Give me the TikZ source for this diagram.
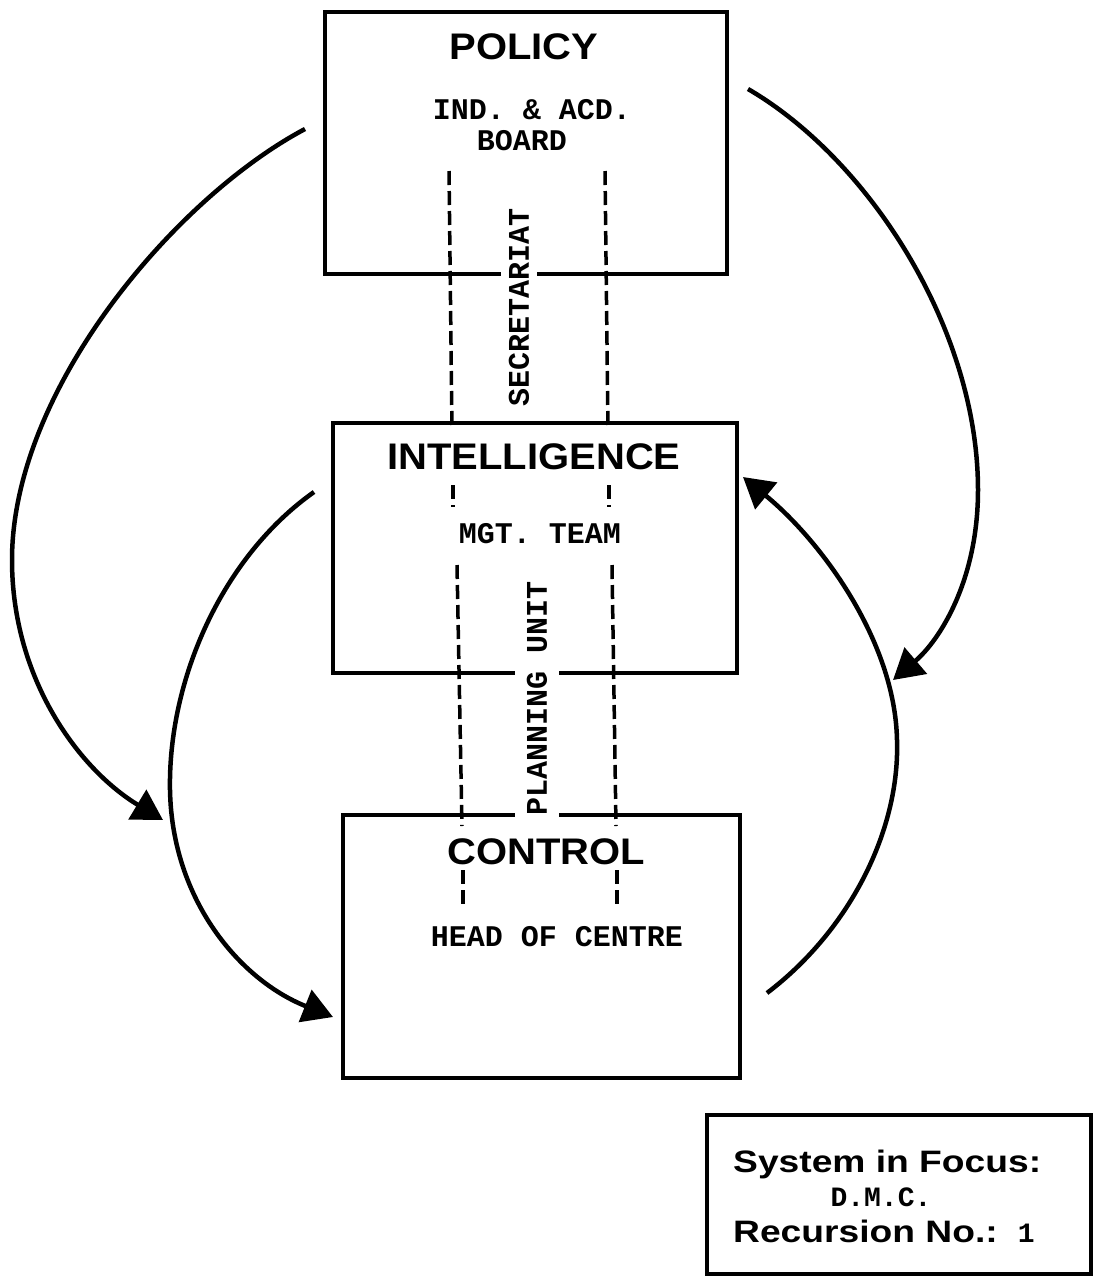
\documentclass[tikz,border=0pt]{standalone}
\usepackage{fontspec}
\usetikzlibrary{arrows.meta}
\newfontfamily\titlefont[FakeStretch=1.08]{Liberation Sans}
\newfontfamily\focusfont[FakeStretch=1.2]{Liberation Sans}
\newfontfamily\typefont{Liberation Mono}
\begin{document}
\begin{tikzpicture}[x=1pt,y=-1pt,
  panel/.style={draw, line width=4.5pt, inner sep=0pt},
  title/.style={font=\titlefont\bfseries\fontsize{37}{40}\selectfont, inner sep=0pt},
  tag/.style={font=\typefont\bfseries\fontsize{30}{30}\selectfont, inner sep=0pt},
  vlabel/.style={tag, rotate=90, fill=white, inner xsep=3pt},
  channel/.style={line width=3.5pt, dash pattern=on 14pt off 6pt},
  flow/.style={line width=4.5pt, -{Triangle[length=30pt,width=34pt]}},
  focus/.style={font=\focusfont\bfseries\fontsize{31}{33}\selectfont, inner sep=0pt, anchor=base west}]

\useasboundingbox[fill=white] (0,0) rectangle (1094,1278);

% the three management boxes
\node[panel, minimum width=402pt, minimum height=262pt] (policy) at (526,143) {};
\node[panel, minimum width=404pt, minimum height=250pt] (intel) at (535,548) {};
\node[panel, minimum width=397pt, minimum height=263pt] (control) at (541.5,946.5) {};

% box titles
\node[title] (policyT) at (524,47) {POLICY};
\node[title] (intelT) at (534,457) {INTELLIGENCE};
\node[title] (controlT) at (546,852) {CONTROL};

% bodies inside the boxes
\node[tag] (ind) at (532,110) {IND. \& ACD.};
\node[tag] (board) at (522,141) {BOARD};
\node[tag] (mgt) at (540,534) {MGT. TEAM};
\node[tag] (head) at (557,937) {HEAD OF CENTRE};

% vertical channels between the boxes
\coordinate (s1a) at (449,171); \coordinate (s1b) at (452,430);
\coordinate (s2a) at (605,171); \coordinate (s2b) at (608,430);
\coordinate (s3a) at (453,485); \coordinate (s3b) at (453,507);
\coordinate (s4a) at (609,485); \coordinate (s4b) at (609,507);
\coordinate (p1a) at (457,565); \coordinate (p1b) at (462,826);
\coordinate (p2a) at (612,565); \coordinate (p2b) at (616,826);
\coordinate (p3a) at (463,870); \coordinate (p3b) at (463,907);
\coordinate (p4a) at (617,870); \coordinate (p4b) at (617,907);
\draw[channel] (s1a) -- (s1b);
\draw[channel] (s2a) -- (s2b);
\draw[channel] (s3a) -- (s3b);
\draw[channel] (s4a) -- (s4b);
\draw[channel] (p1a) -- (p1b);
\draw[channel] (p2a) -- (p2b);
\draw[channel] (p3a) -- (p3b);
\draw[channel] (p4a) -- (p4b);

% channel labels, breaking the box borders they cross
\node[vlabel, inner ysep=8pt] (secr) at (519,307) {SECRETARIAT};
\node[vlabel, inner ysep=12pt, inner xsep=5pt] (plan) at (537,698) {PLANNING UNIT};

% curved flows around the boxes
\coordinate (l1s) at (305,129); \coordinate (l1m) at (12,560); \coordinate (l1e) at (163,820);
\draw[flow] (l1s) .. controls (175,198) and (12,390) .. (l1m)
                  .. controls (12,680) and (80,770) .. (l1e);

\coordinate (l2s) at (314,492); \coordinate (l2m) at (170,790); \coordinate (l2e) at (333,1017);
\draw[flow] (l2s) .. controls (222,557) and (168,680) .. (l2m)
                  .. controls (172,900) and (240,980) .. (l2e);

\coordinate (r1s) at (748,89); \coordinate (r1m) at (978,490); \coordinate (r1e) at (893,680);
\draw[flow] (r1s) .. controls (870,160) and (978,330) .. (r1m)
                  .. controls (978,580) and (940,640) .. (r1e);

\coordinate (r2s) at (767,993); \coordinate (r2m) at (897,740); \coordinate (r2e) at (743,477);
\draw[flow] (r2s) .. controls (850,930) and (900,830) .. (r2m)
                  .. controls (895,640) and (820,540) .. (r2e);

% system-in-focus legend
\node[panel, minimum width=384pt, minimum height=159pt] (legend) at (899,1194.5) {};
\node[focus] (sys) at (733,1172) {System in Focus:};
\node[tag, font=\typefont\bfseries\fontsize{28}{28}\selectfont] (dmc) at (881,1197) {D.M.C.};
\node[focus] (rec) at (733,1242) {Recursion No.:\hspace{20pt}{\typefont\bfseries\fontsize{28}{28}\selectfont 1}};
\end{tikzpicture}
\end{document}
